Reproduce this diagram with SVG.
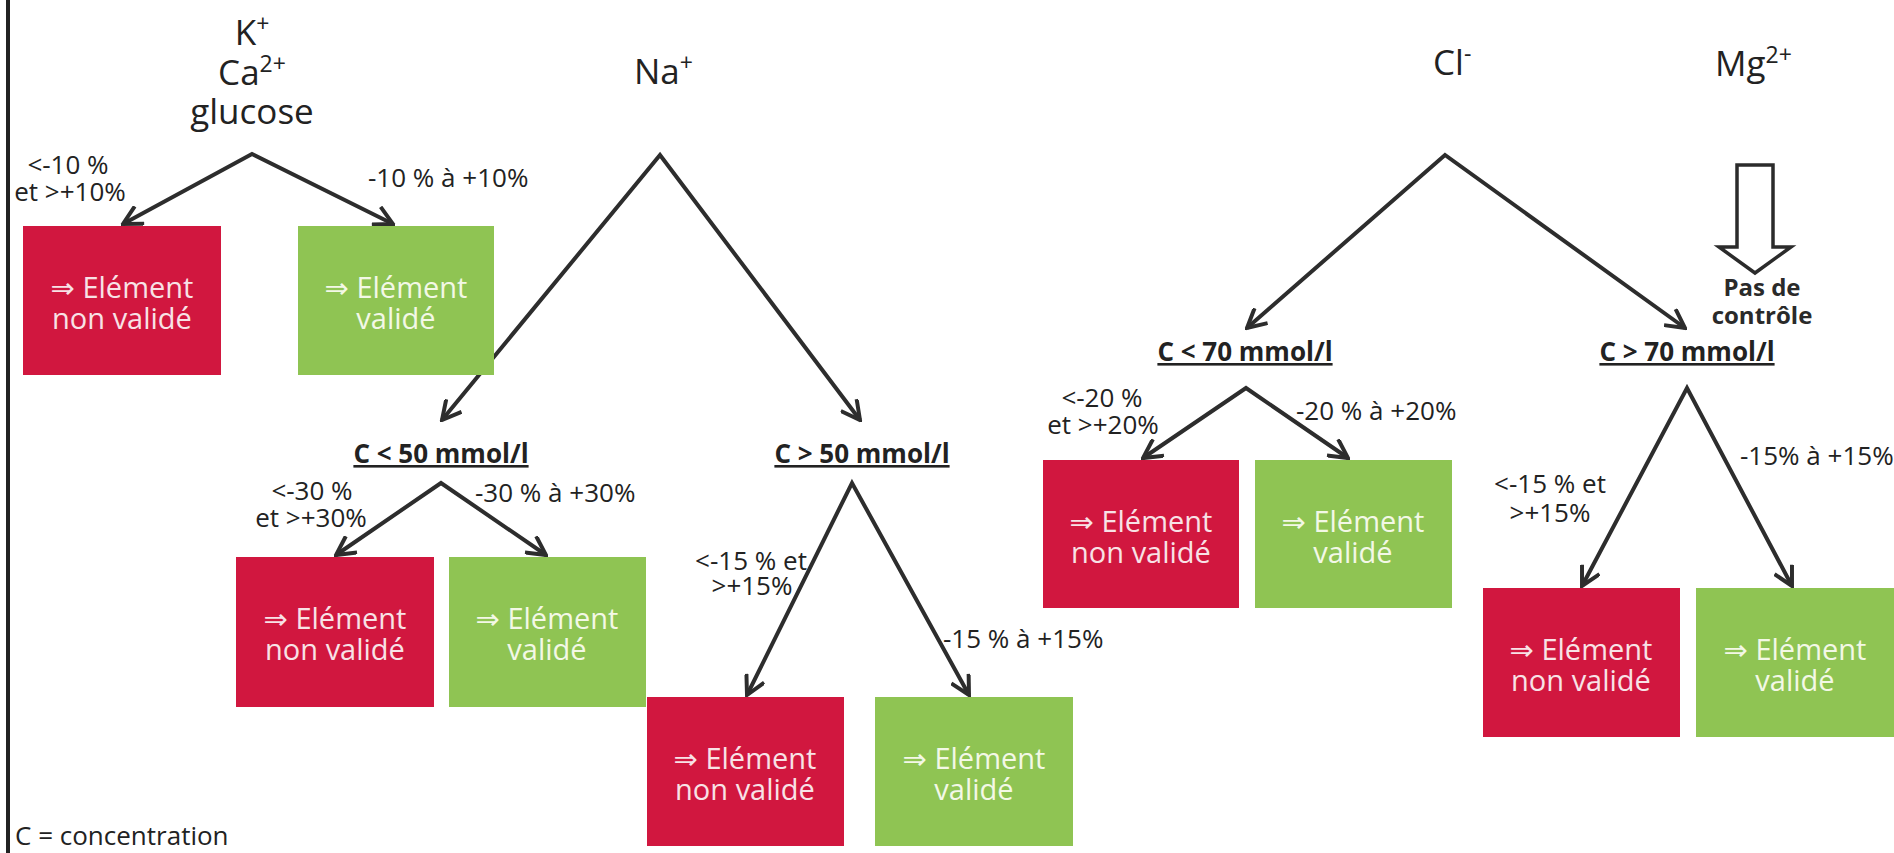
<svg xmlns="http://www.w3.org/2000/svg" width="1894" height="853" viewBox="0 0 1894 853">
<style>
.bg{fill:#ffffff}
.head{font-family:"Open Sans","DejaVu Sans",sans-serif;font-size:35px;fill:#222}
.lab{font-family:"Open Sans","DejaVu Sans",sans-serif;font-size:26px;fill:#222}
.cond{font-family:"Open Sans","DejaVu Sans",sans-serif;font-size:26px;font-weight:bold;fill:#222;text-decoration:underline}
.pas{font-family:"Open Sans","DejaVu Sans",sans-serif;font-size:24px;font-weight:bold;fill:#2a2a2a}
.red rect{fill:#d1173f}
.green rect{fill:#8fc453}
.red text{font-family:"Open Sans","DejaVu Sans",sans-serif;font-size:29px;fill:#f8e2e6;text-anchor:middle}
.green text{font-family:"Open Sans","DejaVu Sans",sans-serif;font-size:29px;fill:#f3f8e6;text-anchor:middle}
.conn path{fill:none;stroke:#2d2d2d;stroke-width:4;stroke-linejoin:miter;marker-start:url(#ah);marker-end:url(#ah)}
.mid{text-anchor:middle}
.sup{font-size:23px}
</style>
<defs>
<marker id="ah" viewBox="0 0 20 20" refX="18" refY="10" markerWidth="22" markerHeight="22" markerUnits="userSpaceOnUse" orient="auto-start-reverse">
<path d="M1,1 L18,10 L1,19" fill="none" stroke="#2d2d2d" stroke-width="3.6"/>
</marker>
</defs>
<rect class="bg" x="0" y="0" width="1894" height="853"/>
<rect x="6" y="0" width="4" height="853" fill="#222"/>

<g id="heading-k">
<text class="head mid" x="252" y="45">K<tspan class="sup" dy="-13">+</tspan><tspan x="252" dy="53">Ca</tspan><tspan class="sup" dy="-13">2+</tspan><tspan x="252" dy="52">glucose</tspan></text>
</g>
<g id="heading-na"><text class="head" x="634" y="84">Na<tspan class="sup" dy="-13">+</tspan></text></g>
<g id="heading-cl"><text class="head" x="1433" y="75">Cl<tspan class="sup" dy="-13">-</tspan></text></g>
<g id="heading-mg"><text class="head" x="1715" y="76">Mg<tspan class="sup" dy="-13">2+</tspan></text></g>

<g class="conn" id="connectors">
<path d="M123,224 L252,154 L393,224"/>
<path d="M442,420 L660,155 L860,420"/>
<path d="M336,555 L441,483 L546,555"/>
<path d="M747,695 L852,483 L969,695"/>
<path d="M1247,328 L1445,155 L1685,328"/>
<path d="M1143,458 L1246,388 L1348,458"/>
<path d="M1582,586 L1687,388 L1792,586"/>
</g>

<g id="mg-arrow">
<polygon points="1737,165 1773,165 1773,247 1791,247 1755,273 1719,247 1737,247" fill="#ffffff" stroke="#2b2b2b" stroke-width="3.5" stroke-linejoin="miter"/>
<text class="pas mid" x="1762" y="296">Pas de<tspan x="1762" dy="28">contrôle</tspan></text>
</g>

<g id="labels">
<text class="lab mid" x="68" y="174">&lt;-10 %<tspan x="70" dy="27">et &gt;+10%</tspan></text>
<text class="lab" x="368" y="187">-10 % à +10%</text>
<text class="lab mid" x="312" y="500">&lt;-30 %<tspan x="311" dy="27">et &gt;+30%</tspan></text>
<text class="lab" x="475" y="502">-30 % à +30%</text>
<text class="lab mid" x="751" y="570">&lt;-15 % et<tspan x="752" dy="25">&gt;+15%</tspan></text>
<text class="lab" x="943" y="648">-15 % à +15%</text>
<text class="lab mid" x="1102" y="407">&lt;-20 %<tspan x="1103" dy="27">et &gt;+20%</tspan></text>
<text class="lab" x="1296" y="420">-20 % à +20%</text>
<text class="lab mid" x="1550" y="493">&lt;-15 % et<tspan x="1550" dy="29">&gt;+15%</tspan></text>
<text class="lab" x="1740" y="465">-15% à +15%</text>
</g>

<g id="cond-na-low"><text class="cond mid" x="441" y="463">C &lt; 50 mmol/l</text></g>
<g id="cond-na-high"><text class="cond mid" x="862" y="463">C &gt; 50 mmol/l</text></g>
<g id="cond-cl-low"><text class="cond mid" x="1245" y="361">C &lt; 70 mmol/l</text></g>
<g id="cond-cl-high"><text class="cond mid" x="1687" y="361">C &gt; 70 mmol/l</text></g>

<g id="box-k-red" class="red"><rect x="23" y="226" width="198" height="149"/><text x="122" y="298">⇒ Elément<tspan x="122" dy="31">non validé</tspan></text></g>
<g id="box-k-green" class="green"><rect x="298" y="226" width="196" height="149"/><text x="396" y="298">⇒ Elément<tspan x="396" dy="31">validé</tspan></text></g>
<g id="box-na1-red" class="red"><rect x="236" y="557" width="198" height="150"/><text x="335" y="629">⇒ Elément<tspan x="335" dy="31">non validé</tspan></text></g>
<g id="box-na1-green" class="green"><rect x="449" y="557" width="197" height="150"/><text x="547" y="629">⇒ Elément<tspan x="547" dy="31">validé</tspan></text></g>
<g id="box-na2-red" class="red"><rect x="647" y="697" width="197" height="149"/><text x="745" y="769">⇒ Elément<tspan x="745" dy="31">non validé</tspan></text></g>
<g id="box-na2-green" class="green"><rect x="875" y="697" width="198" height="149"/><text x="974" y="769">⇒ Elément<tspan x="974" dy="31">validé</tspan></text></g>
<g id="box-cl1-red" class="red"><rect x="1043" y="460" width="196" height="148"/><text x="1141" y="532">⇒ Elément<tspan x="1141" dy="31">non validé</tspan></text></g>
<g id="box-cl1-green" class="green"><rect x="1255" y="460" width="197" height="148"/><text x="1353" y="532">⇒ Elément<tspan x="1353" dy="31">validé</tspan></text></g>
<g id="box-cl2-red" class="red"><rect x="1483" y="588" width="197" height="149"/><text x="1581" y="660">⇒ Elément<tspan x="1581" dy="31">non validé</tspan></text></g>
<g id="box-cl2-green" class="green"><rect x="1696" y="588" width="198" height="149"/><text x="1795" y="660">⇒ Elément<tspan x="1795" dy="31">validé</tspan></text></g>

<g id="legend"><text class="lab" x="15" y="845" font-size="25">C = concentration</text></g>
</svg>
